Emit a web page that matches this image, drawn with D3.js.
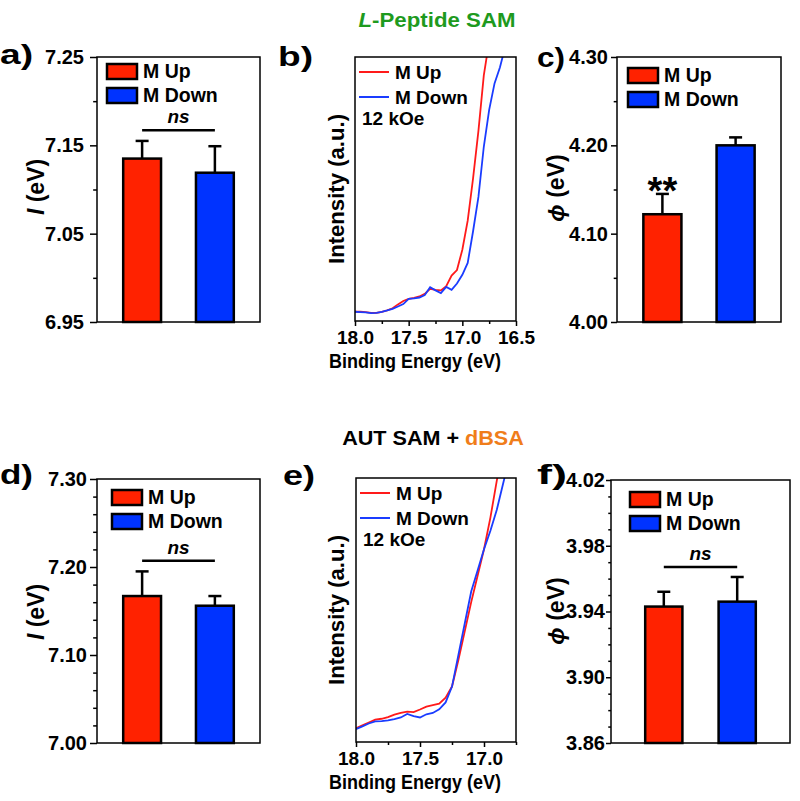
<!DOCTYPE html>
<html>
<head>
<meta charset="utf-8">
<script src="https://cdn.jsdelivr.net/npm/d3@7"></script>
<style>
body { margin: 0; background: #fff; }
svg { display: block; }
text { font-family: "Liberation Sans", Arial, sans-serif; font-weight: bold; }
</style>
</head>
<body>
<script>
// ---- data ----
var groups = ["M Up", "M Down"];
var barColors = ["#ff2200", "#0033ff"];
var lineColors = ["#ff1a1a", "#1a3cff"];

// L-Peptide SAM
var ipPep = [7.135, 7.119], ipPepErr = [0.020, 0.030];
var wfPep = [4.122, 4.200], wfPepErr = [0.023, 0.009];
// AUT SAM + dBSA
var ipAut = [7.167, 7.156], ipAutErr = [0.028, 0.011];
var wfAut = [3.943, 3.946], wfAutErr = [0.009, 0.015];

var ticksA = [6.95, 7.05, 7.15, 7.25];
var ticksC = [4.00, 4.10, 4.20, 4.30];
var ticksD = [7.00, 7.10, 7.20, 7.30];
var ticksF = [3.86, 3.90, 3.94, 3.98, 4.02];
var ticksB = [18.0, 17.5, 17.0, 16.5];
var ticksE = [18.0, 17.5, 17.0];

// spectra (binding energy, eV / intensity, a.u. scaled 0-100 in the frame)
var energyB = [18.00, 17.95, 17.90, 17.85, 17.80, 17.75, 17.70, 17.65, 17.60, 17.55,
               17.50, 17.45, 17.40, 17.35, 17.30, 17.25, 17.20, 17.15, 17.10, 17.05,
               17.00, 16.95, 16.90, 16.85, 16.80, 16.75, 16.70, 16.65, 16.60];
var upB = [3.5, 3.5, 3.4, 3.1, 3.1, 3.5, 4.0, 4.8, 6.3, 7.6,
           8.4, 8.8, 9.3, 10.3, 12.2, 11.8, 11.6, 13.2, 17.2, 19.3,
           27, 38, 54, 72, 93, 106, 125, 145, 165];
var downB = [3.5, 3.4, 3.3, 3.0, 3.1, 3.5, 4.0, 4.6, 5.5, 6.4,
             8.4, 8.6, 8.9, 9.8, 12.8, 11.6, 10.6, 12.9, 11.8, 14.2,
             17.5, 22, 34, 47, 66, 80, 90, 96, 104];

var energyE = [18.00, 17.95, 17.90, 17.85, 17.80, 17.75, 17.70, 17.65, 17.60, 17.55,
               17.50, 17.45, 17.40, 17.35, 17.30, 17.25, 17.20, 17.15, 17.10, 17.05,
               17.00, 16.95, 16.90, 16.85, 16.80];
var upE = [5.2, 6.3, 7.4, 8.5, 8.8, 9.4, 10.4, 11.0, 11.5, 11.3,
           12.3, 13.4, 14.0, 14.5, 16.8, 21, 31, 42, 53, 63,
           73, 85, 99, 112, 125];
var downE = [4.9, 5.9, 7.0, 7.8, 7.9, 8.2, 8.7, 9.3, 10.6, 9.8,
             9.3, 10.5, 11.0, 12.4, 15.0, 21, 33, 45, 57, 65,
             73, 80, 88, 98, 108];

var svg = d3.select("body").append("svg").attr("width", 800).attr("height", 801);
svg.append("rect").attr("width", 800).attr("height", 801).attr("fill", "#fff");

function panelLetter(txt, x, y, w) {
    svg.append("text").attr("x", x).attr("y", y).attr("font-size", 28)
        .attr("textLength", w).attr("lengthAdjust", "spacingAndGlyphs").text(txt);
}

function styleAxis(g, size) {
    g.select(".domain").remove();
    g.selectAll(".tick line").attr("stroke", "#000").attr("stroke-width", 1.5);
    g.selectAll(".tick text").attr("font-size", size).attr("fill", "#000")
        .attr("font-family", "Liberation Sans, Arial, sans-serif").attr("font-weight", "bold");
}

function barPanel(o) {
    var x0 = o.box[0], y0 = o.box[1], x1 = o.box[2], y1 = o.box[3];
    var g = svg.append("g");
    var y = d3.scaleLinear().domain(o.domain).range([y1, y0]);
    var x = d3.scaleBand().domain(groups).range([x0, x1])
        .paddingInner(o.pad[0]).paddingOuter(o.pad[1]);

    var minor = d3.range(o.domain[0], o.domain[1] + 1e-9, o.minorStep)
        .filter(function (v) { return !o.ticks.some(function (t) { return Math.abs(t - v) < 1e-6; }); });
    g.append("g").attr("transform", "translate(" + x0 + ",0)")
        .call(d3.axisLeft(y).tickValues(minor).tickSize(o.tick[0] * 0.55).tickFormat(""))
        .call(styleAxis, 20);
    g.append("g").attr("transform", "translate(" + x0 + ",0)")
        .call(d3.axisLeft(y).tickValues(o.ticks).tickSize(o.tick[0]).tickPadding(o.tick[1])
            .tickFormat(d3.format(".2f")))
        .call(styleAxis, 20);

    // bars
    g.selectAll("rect.bar").data(groups).enter().append("rect")
        .attr("x", function (d) { return x(d); })
        .attr("y", function (d, i) { return y(o.values[i]); })
        .attr("width", x.bandwidth())
        .attr("height", function (d, i) { return y1 - y(o.values[i]); })
        .attr("fill", function (d, i) { return barColors[i]; })
        .attr("stroke", "#000").attr("stroke-width", 2.5);

    // error bars (upper only)
    groups.forEach(function (d, i) {
        var cx = x(d) + x.bandwidth() / 2;
        var top = y(o.values[i] + o.errs[i]);
        g.append("line").attr("x1", cx).attr("x2", cx)
            .attr("y1", y(o.values[i])).attr("y2", top)
            .attr("stroke", "#000").attr("stroke-width", 2.5);
        g.append("line").attr("x1", cx - 6.5).attr("x2", cx + 6.5)
            .attr("y1", top).attr("y2", top)
            .attr("stroke", "#000").attr("stroke-width", 2.5);
    });

    var c0 = x(groups[0]) + x.bandwidth() / 2, c1 = x(groups[1]) + x.bandwidth() / 2;
    if (o.ns != null) {
        g.append("line").attr("x1", c0).attr("x2", c1)
            .attr("y1", y(o.ns)).attr("y2", y(o.ns))
            .attr("stroke", "#000").attr("stroke-width", 2.5);
        g.append("text").attr("x", (c0 + c1) / 2).attr("y", y(o.ns) - 7)
            .attr("text-anchor", "middle").attr("font-size", 19).attr("font-style", "italic")
            .text("ns");
    }
    if (o.stars) {
        g.append("text").attr("x", c0).attr("y", y(o.values[0] + o.errs[0]) + 10)
            .attr("text-anchor", "middle").attr("font-size", 38).text("**");
    }

    // frame
    g.append("rect").attr("x", x0).attr("y", y0).attr("width", x1 - x0).attr("height", y1 - y0)
        .attr("fill", "none").attr("stroke", "#000").attr("stroke-width", 1.5);

    // legend
    groups.forEach(function (d, i) {
        var ly = y0 + o.leg[1] + i * 24;
        g.append("rect").attr("x", x0 + o.leg[0]).attr("y", ly).attr("width", 30).attr("height", 15)
            .attr("fill", barColors[i]).attr("stroke", "#000").attr("stroke-width", 2.5);
        g.append("text").attr("x", x0 + o.leg[0] + 36).attr("y", ly + 14)
            .attr("font-size", 19.5).text(d);
    });

    // y label
    var t = g.append("text").attr("text-anchor", "middle").attr("font-size", 23)
        .attr("transform", "translate(" + o.ylab[0] + "," + o.ylab[1] + ") rotate(-90)");
    t.append("tspan").attr("font-style", "italic").text(o.sym);
    t.append("tspan").text(" (eV)");
}

function specPanel(o) {
    var x0 = o.box[0], y0 = o.box[1], x1 = o.box[2], y1 = o.box[3];
    var g = svg.append("g");
    var x = d3.scaleLinear().domain(o.domain).range([x0, x1]);
    var y = d3.scaleLinear().domain([0, 100]).range([y1, y0]);

    var minor = d3.range(o.domain[1], o.domain[0] + 1e-9, 0.25)
        .filter(function (v) { return !o.ticks.some(function (t) { return Math.abs(t - v) < 1e-6; }); });
    g.append("g").attr("transform", "translate(0," + y1 + ")")
        .call(d3.axisBottom(x).tickValues(minor).tickSize(3).tickFormat(""))
        .call(styleAxis, 19);
    g.append("g").attr("transform", "translate(0," + y1 + ")")
        .call(d3.axisBottom(x).tickValues(o.ticks).tickSize(5).tickPadding(5).tickFormat(d3.format(".1f")))
        .call(styleAxis, 19);

    var clipId = "clip" + o.id;
    svg.append("clipPath").attr("id", clipId).append("rect")
        .attr("x", x0).attr("y", y0).attr("width", x1 - x0).attr("height", y1 - y0);

    var line = d3.line().x(function (d) { return x(d[0]); }).y(function (d) { return y(d[1]); });
    [o.up, o.down].forEach(function (s, k) {
        var pts = o.energy.map(function (e, i) { return [e, s[i]]; });
        g.append("path").datum(pts).attr("d", line).attr("fill", "none")
            .attr("stroke", lineColors[k]).attr("stroke-width", 1.8)
            .attr("clip-path", "url(#" + clipId + ")");
    });

    g.append("rect").attr("x", x0).attr("y", y0).attr("width", x1 - x0).attr("height", y1 - y0)
        .attr("fill", "none").attr("stroke", "#000").attr("stroke-width", 1.5);

    groups.forEach(function (d, i) {
        var ly = y0 + 15 + i * 25;
        g.append("line").attr("x1", x0 + 4).attr("x2", x0 + 34).attr("y1", ly).attr("y2", ly)
            .attr("stroke", lineColors[i]).attr("stroke-width", 2);
        g.append("text").attr("x", x0 + 40).attr("y", ly + 6.5).attr("font-size", 19).text(d);
    });
    g.append("text").attr("x", x0 + 7).attr("y", y0 + 68).attr("font-size", 19).text("12 kOe");

    g.append("text").attr("x", 329).attr("y", o.xlabY)
        .attr("font-size", 20).attr("textLength", 172).attr("lengthAdjust", "spacingAndGlyphs")
        .text("Binding Energy (eV)");
    g.append("text").attr("font-size", 22).attr("textLength", 150).attr("lengthAdjust", "spacingAndGlyphs")
        .attr("transform", "translate(344," + ((y0 + y1) / 2 + 75) + ") rotate(-90)")
        .text("Intensity (a.u.)");
}

// ---- titles ----
var t1 = svg.append("text").attr("text-anchor", "middle").attr("font-size", 21)
    .attr("fill", "#1e9a1e").attr("transform", "translate(437,27) scale(1.06,1)");
t1.append("tspan").attr("font-style", "italic").text("L");
t1.append("tspan").text("-Peptide SAM");

var t2 = svg.append("text").attr("text-anchor", "middle").attr("font-size", 20)
    .attr("transform", "translate(433,445) scale(1.08,1)");
t2.append("tspan").attr("fill", "#000").text("AUT SAM + ");
t2.append("tspan").attr("fill", "#f07d1a").text("dBSA");

// ---- panels ----
barPanel({ box: [97, 57, 260, 322], domain: [6.95, 7.25], ticks: ticksA, minorStep: 0.05,
    pad: [0.48, 0.36], values: ipPep, errs: ipPepErr, ns: 7.167, stars: false,
    tick: [7, 6], leg: [10, 7], ylab: [44, 187], sym: "I" });
specPanel({ id: "b", box: [355, 57, 516, 321], domain: [18.0, 16.5], ticks: ticksB,
    energy: energyB, up: upB, down: downB, xlabY: 368 });
barPanel({ box: [617, 57, 781, 322], domain: [4.00, 4.30], ticks: ticksC, minorStep: 0.05,
    pad: [0.48, 0.36], values: wfPep, errs: wfPepErr, ns: null, stars: true,
    tick: [6, 3], leg: [11, 11], ylab: [564, 188], sym: "\u03d5" });

barPanel({ box: [97, 479, 260, 743], domain: [7.00, 7.30], ticks: ticksD, minorStep: 0.02,
    pad: [0.48, 0.36], values: ipAut, errs: ipAutErr, ns: 7.207, stars: false,
    tick: [7, 3], leg: [15, 11], ylab: [44, 612], sym: "I" });
specPanel({ id: "e", box: [356, 478, 516, 742], domain: [18.0, 16.75], ticks: ticksE,
    energy: energyE, up: upE, down: downE, xlabY: 789 });
barPanel({ box: [611, 480, 790, 743], domain: [3.86, 4.02], ticks: ticksF, minorStep: 0.01,
    pad: [0.493, 0.466], values: wfAut, errs: wfAutErr, ns: 3.967, stars: false,
    tick: [5, 1], leg: [19, 12], ylab: [564, 611], sym: "\u03d5" });

// ---- panel letters ----
panelLetter("a)", 0, 64, 33);
panelLetter("b)", 278, 66, 35);
panelLetter("c)", 537, 67, 28);
panelLetter("d)", 0, 484, 33);
panelLetter("e)", 283, 485, 32);
panelLetter("f)", 537, 484, 30);
</script>
</body>
</html>
